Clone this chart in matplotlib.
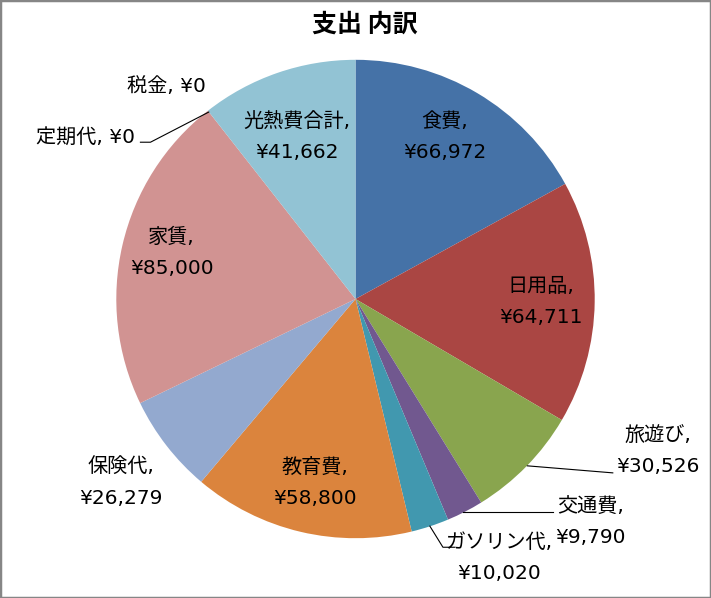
import matplotlib
matplotlib.use("Agg")
import matplotlib.pyplot as plt
import numpy as np

plt.rcParams['font.family'] = ['DejaVu Sans', 'Noto Sans CJK JP']

categories = ["食費", "日用品", "旅遊び", "交通費", "ガソリン代", "教育費",
              "保険代", "家賃", "定期代", "税金", "光熱費合計"]
values = [66972, 64711, 30526, 9790, 10020, 58800, 26279, 85000, 0, 0, 41662]
colors = ["#4572A7", "#AA4643", "#89A54E", "#71588F", "#4198AF", "#DB843D",
          "#93A9CF", "#D19392", "#B9CD96", "#A99BBD", "#92C3D4"]

W, H = 711, 598
CX, CY, R = 356, 298, 238

def px(x, y):
    return ((x - CX) / R, (CY - y) / R)

fig = plt.figure(figsize=(W / 100, H / 100), dpi=100)
ax = fig.add_axes([0, 0, 1, 1])
ax.set_xlim(-CX / R, (W - CX) / R)
ax.set_ylim(-(H - CY) / R, CY / R)
ax.set_aspect('equal')
ax.axis('off')

ax.pie(values, colors=colors, startangle=90, counterclock=False,
       radius=1.0, center=(0, 0), wedgeprops=dict(linewidth=0))

# label layout (pixel positions of label centres)
label_pos = {
    "食費": (445, 137, 'two'),
    "日用品": (540, 301, 'two'),
    "旅遊び": (657, 449, 'two'),
    "交通費": (590, 520, 'two'),
    "ガソリン代": (499, 556, 'two'),
    "教育費": (316, 481, 'two'),
    "保険代": (123, 481, 'two'),
    "家賃": (173, 252, 'two'),
    "定期代": (87, 137, 'one'),
    "税金": (168, 87, 'one'),
    "光熱費合計": (298, 137, 'two'),
}
for cat, val in zip(categories, values):
    x, y, mode = label_pos[cat]
    sep = ",\n" if mode == 'two' else ", "
    txt = f"{cat}{sep}¥{val:,}"
    dx, dy = px(x, y)
    ax.text(dx, dy, txt, ha='center', va='center', fontsize=14.5,
            linespacing=1.78, color='black')

# leader lines (pixel paths)
leaders = [
    [(527, 464), (612, 471)],
    [(463, 510), (553, 510)],
    [(430, 524), (443, 545), (455, 545)],
    [(210, 112), (152, 142), (142, 142)],
]
for path in leaders:
    pts = [px(x, y) for x, y in path]
    ax.plot([p[0] for p in pts], [p[1] for p in pts], color='black', lw=0.8)

fig.text(365 / W, 1 - 25 / H, "支出 内訳", ha='center', va='center',
         fontsize=18, fontweight='bold', family=['Noto Sans CJK JP'])

fig.patches.append(plt.Rectangle((0, 0), 1, 1, transform=fig.transFigure,
                                 fill=False, edgecolor='#868686', lw=2.5))

fig.savefig("out.png", dpi=100)
